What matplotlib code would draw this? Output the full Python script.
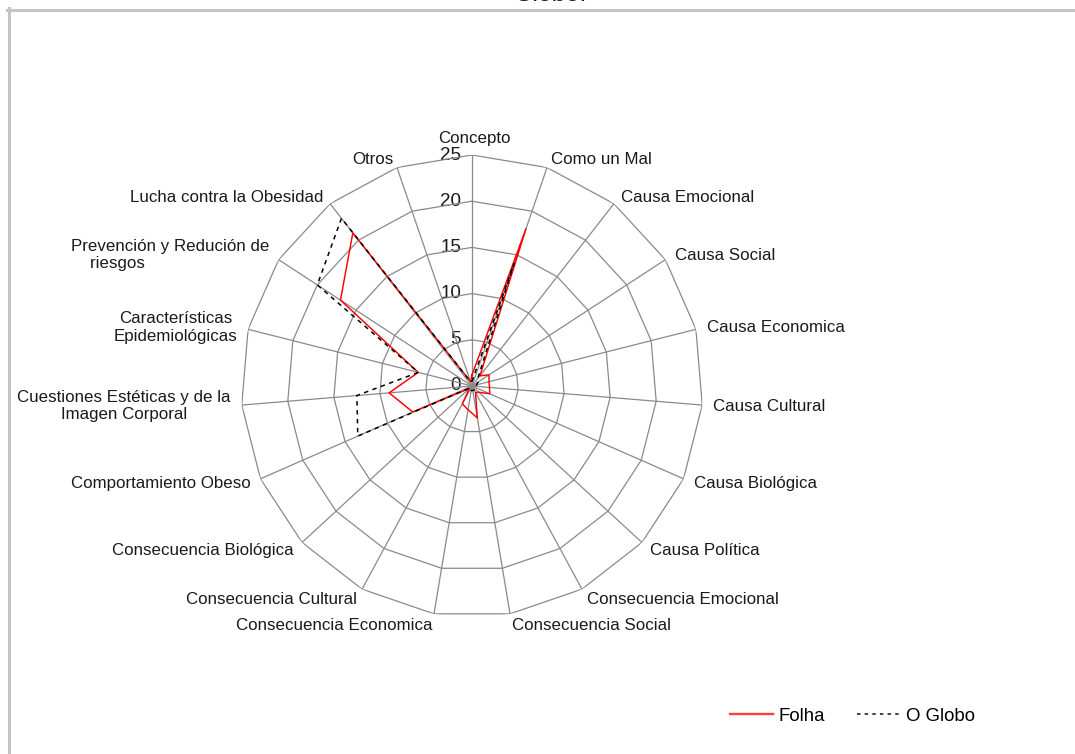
import numpy as np
import matplotlib
matplotlib.use('Agg')
import matplotlib.pyplot as plt
from matplotlib.lines import Line2D

plt.rcParams['font.family'] = ['Liberation Sans', 'DejaVu Sans']
plt.rcParams['lines.scale_dashes'] = False

categories = [
    'Concepto', 'Como un Mal', 'Causa Emocional', 'Causa Social',
    'Causa Economica', 'Causa Cultural', 'Causa Biológica', 'Causa Política',
    'Consecuencia Emocional', 'Consecuencia Social', 'Consecuencia Economica',
    'Consecuencia Cultural', 'Consecuencia Biológica', 'Comportamiento Obeso',
    'Cuestiones Estéticas y de la\nImagen Corporal',
    'Características\nEpidemiológicas',
    'Prevención y Redución de\n    riesgos',
    'Lucha contra la Obesidad', 'Otros',
]
folha = [1.2, 18, 1.4, 2.2, 1.9, 1.9, 2.1, 1.0, 0.8, 3.5, 2.6, 2.2, 0.4,
         7, 9, 6, 17, 21, 0.5]
globo = [0.5, 14, 1.0, 0.8, 0.5, 0.5, 0.5, 0.5, 0.5, 0.5, 0.5, 0.5, 0.3,
         13.5, 12.5, 6, 20, 23, 0.5]
series_names = ['Folha', 'O Globo']
ring_values = [0, 5, 10, 15, 20, 25]
title_tail = 'Globo.'

W, H = 1075, 754
fig = plt.figure(figsize=(W / 100, H / 100), dpi=100)
fig.patch.set_facecolor('white')

# polar area: centre and outer radius in pixels
cx, cy, R = 472, 386, 231
ax = fig.add_axes([(cx - R) / W, (H - cy - R) / H, 2 * R / W, 2 * R / H],
                  polar=True)
ax.set_theta_zero_location('N')
ax.set_theta_direction(-1)
ax.set_ylim(0, ring_values[-1])
ax.axis('off')

n = len(categories)
theta = np.arange(n) * 2 * np.pi / n
theta_c = np.append(theta, theta[0])

grid_c = '#8a8a8a'
# polygonal rings
for v in ring_values[1:]:
    ax.plot(theta_c, [v] * (n + 1), color=grid_c, lw=0.9, zorder=2)
# spokes
for t in theta:
    ax.plot([t, t], [0, ring_values[-1]], color=grid_c, lw=0.9, zorder=2)

fs = 12.2
text_c = '#1a1a1a'

# radial tick labels along the first axis
for v in ring_values:
    ax.annotate(str(v), xy=(0, v), xytext=(-11, 0), textcoords='offset pixels',
                ha='right', va='center', fontsize=13.5, color=text_c,
                zorder=1, annotation_clip=False)

# category labels
for t, cat in zip(theta, categories):
    s, c = np.sin(t), np.cos(t)
    if abs(s) < 0.01:
        ha, dx, dy = 'center', 2, 16
    else:
        ha = 'left' if s > 0 else 'right'
        dx = 11 * s
        dy = (8 if c > 0 else 12) * c
    malign = 'left' if cat.startswith('Prevención') else 'center'
    ax.annotate(cat, xy=(t, ring_values[-1]), xytext=(dx, dy),
                textcoords='offset pixels', ha=ha, va='center',
                multialignment=malign, fontsize=fs, color=text_c,
                annotation_clip=False)

folha_c = np.append(folha, folha[0])
globo_c = np.append(globo, globo[0])
ax.plot(theta_c, folha_c, color='red', lw=1.05, zorder=3)
ax.plot(theta_c, globo_c, color='black', lw=1.1, ls=(0, (3.2, 3.2)), zorder=4)

handles = [Line2D([], [], color='#ff4040', lw=1.7),
           Line2D([], [], color='#444444', lw=1.4, ls=(0, (2.5, 3)))]
fig.legend(handles, series_names, loc='center left',
           bbox_to_anchor=(730 / W, 38 / H), ncol=2, frameon=False,
           borderpad=0, borderaxespad=0, handlelength=2.3,
           handletextpad=0.3, columnspacing=1.75, fontsize=13.4)

# outer frame (top and left edges visible)
frame_c = '#c4c4c4'
fig.add_artist(Line2D([7 / W, 1.01], [(H - 9.5) / H] * 2, color=frame_c,
                      lw=2.2, transform=fig.transFigure))
fig.add_artist(Line2D([8.5 / W] * 2, [(H - 8) / H, -0.01], color=frame_c,
                      lw=2.2, transform=fig.transFigure))

fig.text(550 / W, (H - 1) / H, title_tail, ha='center', va='baseline',
         fontsize=18, color=text_c)

fig.savefig('out.png', dpi=100, facecolor='white')
